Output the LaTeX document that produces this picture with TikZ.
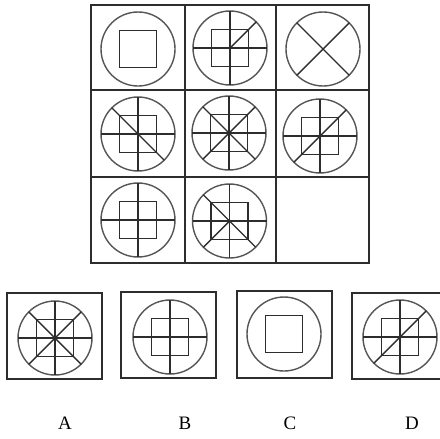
\documentclass[tikz,border=0pt]{standalone}
\usepackage{fontspec}
\setmainfont{Liberation Serif}
\usetikzlibrary{positioning}
\definecolor{mLine}{RGB}{45,45,45}
\definecolor{mRing}{RGB}{85,85,85}

\begin{document}
\begin{tikzpicture}[x=0.25mm, y=-0.25mm,
    frame/.style={draw=mLine, line width=1.2pt},
    optbox/.style={draw=mLine, line width=1.5pt},
    ring/.style={draw=mRing, line width=1pt},
    inner/.style={draw=mLine, line width=1.2pt},
    spoke/.style={draw=mLine, line width=1pt},
    letter/.style={font=\fontsize{13.5}{16}\selectfont, inner sep=0pt}]
    \useasboundingbox (0,0) rectangle (440,438);
    \clip (0,0) rectangle (440,438);
    % 3x3 grid
    \draw[frame] (91,5) rectangle (369,263);
    \draw[frame] (185,5) -- (185,263) (276,5) -- (276,263);
    \draw[frame] (91,90) -- (369,90) (91,177) -- (369,177);
    % answer boxes (D runs off the right edge)
    \draw[optbox] (7,293) rectangle (102,379);
    \draw[optbox] (121,292) rectangle (216,378);
    \draw[optbox] (237,291) rectangle (332,378);
    \draw[optbox] (352,293) rectangle (447,379);
    % centres of the figures
    \coordinate (g11) at (138,49);
    \coordinate (g12) at (230,48);
    \coordinate (g13) at (323,49);
    \coordinate (g21) at (138,134);
    \coordinate (g22) at (229,133);
    \coordinate (g23) at (320,136);
    \coordinate (g31) at (138,220);
    \coordinate (g32) at (229.5,221);
    \coordinate (optA) at (55,338);
    \coordinate (optB) at (170,337);
    \coordinate (optC) at (284,334);
    \coordinate (optD) at (400,337);
    % circles
    \foreach \c in {g11,g12,g13,g21,g22,g23,g31,g32,optA,optB,optC,optD}
      \draw[ring] (\c) circle[radius=37];
    % squares
    \foreach \c in {g11,g12,g21,g22,g23,g31,g32,optA,optB,optC,optD}
      \draw[inner] (\c) ++(-18.5,-18.5) rectangle ++(37,37);
    % horizontal and vertical lines
    \foreach \c in {g12,g21,g22,g23,g31,g32,optA,optB,optD} {
      \draw[spoke] (\c) ++(-37,0) -- ++(74,0);
      \draw[spoke] (\c) ++(0,-37) -- ++(0,74);
    }
    % full diagonal, upper left to lower right
    \foreach \c in {g13,g21,g22,g32,optA}
      \draw[spoke] (\c) ++(-26.16,-26.16) -- ++(52.32,52.32);
    % full diagonal, lower left to upper right
    \foreach \c in {g13,g22,g23,optA,optD}
      \draw[spoke] (\c) ++(-26.16,26.16) -- ++(52.32,-52.32);
    % half diagonals
    \draw[spoke] (g12) -- ++(26.16,-26.16);
    \draw[spoke] (g32) -- ++(-26.16,26.16);
    % option letters
    \node[letter] (labA) at (65,423) {A};
    \node[letter] (labB) at (185,423) {B};
    \node[letter] (labC) at (290,423) {C};
    \node[letter] (labD) at (412,423) {D};
\end{tikzpicture}
\end{document}
